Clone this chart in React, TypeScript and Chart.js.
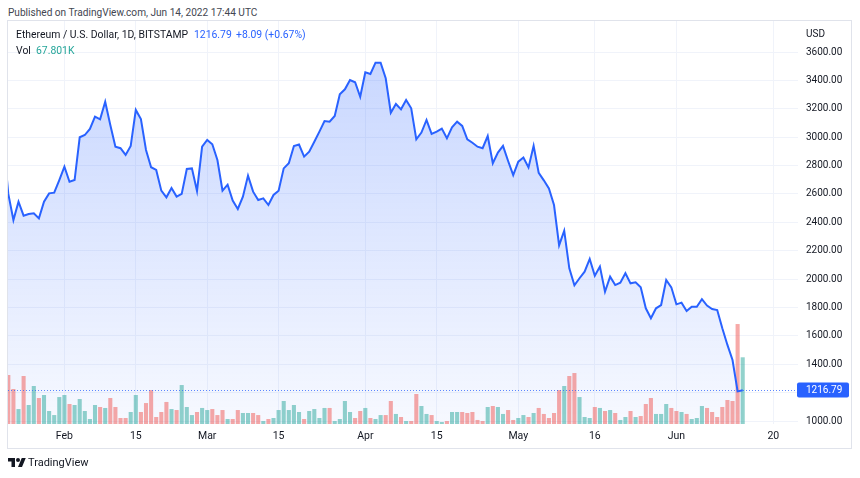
import React, { useEffect, useRef } from 'react';
import { Chart, registerables } from 'chart.js';

Chart.register(...registerables);

// ---------- data ----------
const startDate = '2022-01-20'; // day index 0 (just left of the visible range)

const closes: number[] = [
  2990,
  // Jan 21 - Jan 31
  2600, 2416, 2545, 2447, 2459, 2464, 2428, 2545, 2604, 2609, 2698,
  // Feb
  2792, 2686, 2698, 2999, 3015, 3058, 3144, 3126, 3250, 3086, 2933, 2922, 2875, 2938,
  3192, 3128, 2910, 2788, 2769, 2623, 2576, 2642, 2581, 2600, 2776, 2780, 2621, 2933,
  // Mar
  2980, 2950, 2839, 2623, 2665, 2553, 2494, 2581, 2729, 2616, 2557, 2569, 2522, 2593,
  2623, 2780, 2816, 2938, 2948, 2863, 2898, 2968, 3039, 3114, 3109, 3149, 3302, 3337,
  3403, 3387, 3285,
  // Apr
  3457, 3445, 3525, 3525, 3415, 3172, 3234, 3196, 3262, 3203, 2985, 3032, 3121, 3023,
  3039, 3060, 2992, 3069, 3109, 3079, 2985, 2961, 2933, 2922, 3008, 2816, 2891, 2938,
  2832, 2733,
  // May
  2827, 2857, 2787, 2939, 2748, 2696, 2638, 2522, 2237, 2341, 2076, 1956, 2006, 2052,
  2142, 2024, 2088, 1911, 2017, 1958, 1975, 2041, 1970, 1977, 1942, 1794, 1724, 1794,
  1817, 1994, 1942,
  // Jun
  1822, 1834, 1775, 1805, 1805, 1858, 1813, 1789, 1782, 1653, 1536, 1430, 1208.7, 1216.79,
];

// volume in thousands, Jan 21 .. Jun 14 (aligned with closes[1..])
const volumes: number[] = [
  49.8, 35.6, 15.2, 48.8, 19.3, 38.6, 26.4, 29.5, 13.2, 9.1, 27.4,
  29.5, 20.3, 19.3, 25.4, 13.2, 5.1, 19.3, 17.3, 16.3, 26.4, 17.3, 6.1, 6.1, 12.2,
  29.5, 12.2, 21.3, 34.5, 7.1, 12.2, 22.4, 15.2, 14.2, 39.6, 17.3, 9.1, 12.2, 16.3,
  14.2, 15.2, 9.1, 14.2, 5.1, 5.1, 14.2, 11.2, 11.2, 11.2, 9.1, 3.0, 5.1, 6.1,
  14.2, 23.4, 14.2, 19.3, 12.2, 5.1, 13.2, 15.2, 6.1, 16.3, 16.3, 3.0, 5.1, 23.4,
  12.2, 6.1, 13.2,
  16.3, 6.1, 5.1, 9.1, 9.1, 23.4, 10.2, 7.1, 3.0, 3.0, 30.5, 18.3, 10.2, 9.1,
  3.0, 2.0, 3.0, 12.2, 12.2, 12.2, 11.2, 12.2, 4.1, 3.0, 17.3, 18.3, 17.3, 10.2,
  14.2, 4.1,
  6.1, 9.1, 7.1, 11.2, 16.3, 10.2, 6.1, 11.2, 34.5, 38.6, 48.8, 51.8, 27.4, 7.1,
  6.1, 17.3, 16.3, 13.2, 14.2, 11.2, 4.1, 7.1, 13.2, 7.1, 8.1, 20.3, 26.4, 10.2,
  10.2, 20.3, 16.3,
  13.2, 12.2, 10.2, 5.1, 6.1, 18.3, 16.3, 12.2, 7.1, 17.3, 24.4, 23.4, 101.6, 67.801,
];

const xTickDates = [
  '2022-02-01', '2022-02-15', '2022-03-01', '2022-03-15', '2022-04-01',
  '2022-04-15', '2022-05-01', '2022-05-16', '2022-06-01', '2022-06-20',
];
const xTickLabels = ['Feb', '15', 'Mar', '15', 'Apr', '15', 'May', '16', 'Jun', '20'];
const priceTicks = [1000, 1200, 1400, 1600, 1800, 2000, 2200, 2400, 2600, 2800, 3000, 3200, 3400, 3600];

const titleText = 'Ethereum / U.S. Dollar, 1D, BITSTAMP';
const publishedText = 'Published on TradingView.com, Jun 14, 2022 17:44 UTC';

// ---------- derived ----------
const DAY = 86400000;
const dayIndex = (d: string) => Math.round((Date.parse(d) - Date.parse(startDate)) / DAY);
const tickDays = xTickDates.map(dayIndex);
const lastClose = closes[closes.length - 1];
const prevClose = closes[closes.length - 2];
const change = lastClose - prevClose;
const changePct = (change / prevClose) * 100;
const lastVol = volumes[volumes.length - 1];

const FONT = "Roboto, 'Noto Sans', sans-serif";
const TEXT = '#131722';
const BLUE = '#2962ff';
const UP = 'rgba(38,166,154,0.5)';
const DOWN = 'rgba(239,83,80,0.5)';

const priceLinePlugin = {
  id: 'priceLine',
  afterDatasetsDraw(chart: any) {
    const { ctx, chartArea, scales } = chart;
    const y = Math.round(scales.y.getPixelForValue(lastClose)) + 0.5;
    ctx.save();
    ctx.strokeStyle = 'rgba(41,98,255,0.75)';
    ctx.lineWidth = 1;
    ctx.setLineDash([1, 2]);
    ctx.beginPath();
    ctx.moveTo(chartArea.left, y);
    ctx.lineTo(chartArea.right, y);
    ctx.stroke();
    ctx.restore();
  },
  afterDraw(chart: any) {
    const { ctx, chartArea, scales } = chart;
    const y = Math.round(scales.y.getPixelForValue(lastClose));
    const x0 = chartArea.right - 1;
    ctx.save();
    ctx.fillStyle = BLUE;
    ctx.beginPath();
    (ctx as any).roundRect(x0, y - 7.5, 52, 15, 2);
    ctx.fill();
    ctx.fillStyle = '#ffffff';
    ctx.font = `10px ${FONT}`;
    ctx.textBaseline = 'middle';
    ctx.textAlign = 'left';
    ctx.fillText(lastClose.toFixed(2), x0 + 9, y + 0.5);
    ctx.restore();
  },
};

export default function App() {
  const ref = useRef<HTMLCanvasElement>(null);

  useEffect(() => {
    if (!ref.current) return;
    const lineData = closes.map((c, i) => ({ x: i, y: c }));
    const volData = volumes.map((v, i) => ({ x: i + 1, y: v }));
    const volColors = volumes.map((_, i) => (closes[i + 1] >= closes[i] ? UP : DOWN));

    const chart = new Chart(ref.current, {
      type: 'bar',
      data: {
        datasets: [
          {
            type: 'line',
            data: lineData,
            xAxisID: 'x',
            yAxisID: 'y',
            borderColor: BLUE,
            borderWidth: 2,
            pointRadius: 0,
            tension: 0,
            fill: 'start',
            order: 0,
            backgroundColor: (c: any) => {
              const area = c.chart.chartArea;
              if (!area) return 'rgba(41,98,255,0.15)';
              const g = c.chart.ctx.createLinearGradient(0, area.top, 0, area.bottom);
              g.addColorStop(0, 'rgba(41,98,255,0.28)');
              g.addColorStop(1, 'rgba(41,98,255,0.04)');
              return g;
            },
          } as any,
          {
            type: 'bar',
            data: volData,
            xAxisID: 'x',
            yAxisID: 'vol',
            backgroundColor: volColors,
            borderWidth: 0,
            barPercentage: 1,
            categoryPercentage: 0.8,
            grouped: false,
            order: 1,
          } as any,
        ],
      },
      options: {
        responsive: false,
        animation: false,
        devicePixelRatio: 1,
        layout: { padding: { left: 8, top: 21, right: 9, bottom: 30 } },
        plugins: {
          legend: { display: false },
          tooltip: { enabled: false },
          filler: { drawTime: 'beforeDatasetsDraw' },
        } as any,
        scales: {
          x: {
            type: 'linear',
            min: 0.94,
            max: 155.84,
            offset: false,
            afterBuildTicks: (s: any) => {
              s.ticks = tickDays.map((v) => ({ value: v }));
            },
            afterFit: (s: any) => {
              s.height = 24;
            },
            ticks: {
              autoSkip: false,
              maxRotation: 0,
              padding: 6,
              color: TEXT,
              font: { family: FONT, size: 10.5 },
              callback: (v: any) => {
                const k = tickDays.indexOf(Number(v));
                return k >= 0 ? xTickLabels[k] : '';
              },
            },
            grid: { color: '#f0f3fa', drawTicks: false, offset: false },
            border: { display: false },
          },
          y: {
            type: 'linear',
            position: 'right',
            min: 978.9,
            max: 3818.5,
            afterBuildTicks: (s: any) => {
              s.ticks = priceTicks.map((v) => ({ value: v }));
            },
            afterFit: (s: any) => {
              s.width = 53;
            },
            ticks: {
              padding: 8,
              color: TEXT,
              font: { family: FONT, size: 10 },
              callback: (v: any) => Number(v).toFixed(2),
            },
            grid: { color: '#f0f3fa', drawTicks: false },
            border: { display: false },
          },
          vol: {
            type: 'linear',
            display: false,
            min: 0,
            max: 409.6,
          },
        },
      } as any,
      plugins: [priceLinePlugin],
    });
    return () => chart.destroy();
  }, []);

  const abs = (left: number, top: number, extra: any = {}) => ({
    position: 'absolute' as const,
    left,
    top,
    whiteSpace: 'nowrap' as const,
    lineHeight: '14px',
    height: 14,
    ...extra,
  });

  return (
    <div
      style={{
        position: 'absolute',
        left: 0,
        top: 0,
        width: 860,
        height: 478,
        background: '#ffffff',
        fontFamily: FONT,
        fontSize: 10.5,
        color: TEXT,
        overflow: 'hidden',
      }}
    >
      <div style={abs(8, 6, { color: '#434651', fontSize: 10.1 })}>{publishedText}</div>
      <div
        style={{
          position: 'absolute',
          left: 7,
          top: 20,
          width: 845,
          height: 429,
          border: '1px solid #e0e3eb',
          boxSizing: 'border-box',
        }}
      />
      <canvas
        ref={ref}
        width={860}
        height={478}
        style={{ position: 'absolute', left: 0, top: 0, width: 860, height: 478 }}
      />
      <div style={abs(16, 28, { color: TEXT, fontSize: 10.4 })}>{titleText}</div>
      <div style={abs(194, 28, { color: BLUE, fontSize: 10.4 })}>{lastClose.toFixed(2)}</div>
      <div style={abs(236, 28, { color: BLUE, fontSize: 10.4 })}>
        {(change >= 0 ? '+' : '') + change.toFixed(2)} ({(changePct >= 0 ? '+' : '') + changePct.toFixed(2)}%)
      </div>
      <div style={abs(16, 44, { color: TEXT, fontSize: 10.4 })}>Vol</div>
      <div style={abs(36, 44, { color: '#26a69a', fontSize: 10.4 })}>{lastVol.toFixed(3)}K</div>
      <div style={abs(806, 27, { color: TEXT, fontSize: 10 })}>USD</div>
      <svg
        style={{ position: 'absolute', left: 8, top: 456 }}
        width={18}
        height={14}
        viewBox="0 0 36 28"
      >
        <path d="M14 22H7V11H0V4h14v18zM28 22h-8l7.5-18h8L28 22z" fill={TEXT} />
        <circle cx="20" cy="8" r="4" fill={TEXT} />
      </svg>
      <div style={abs(28, 456, { color: TEXT, fontSize: 11 })}>TradingView</div>
    </div>
  );
}
